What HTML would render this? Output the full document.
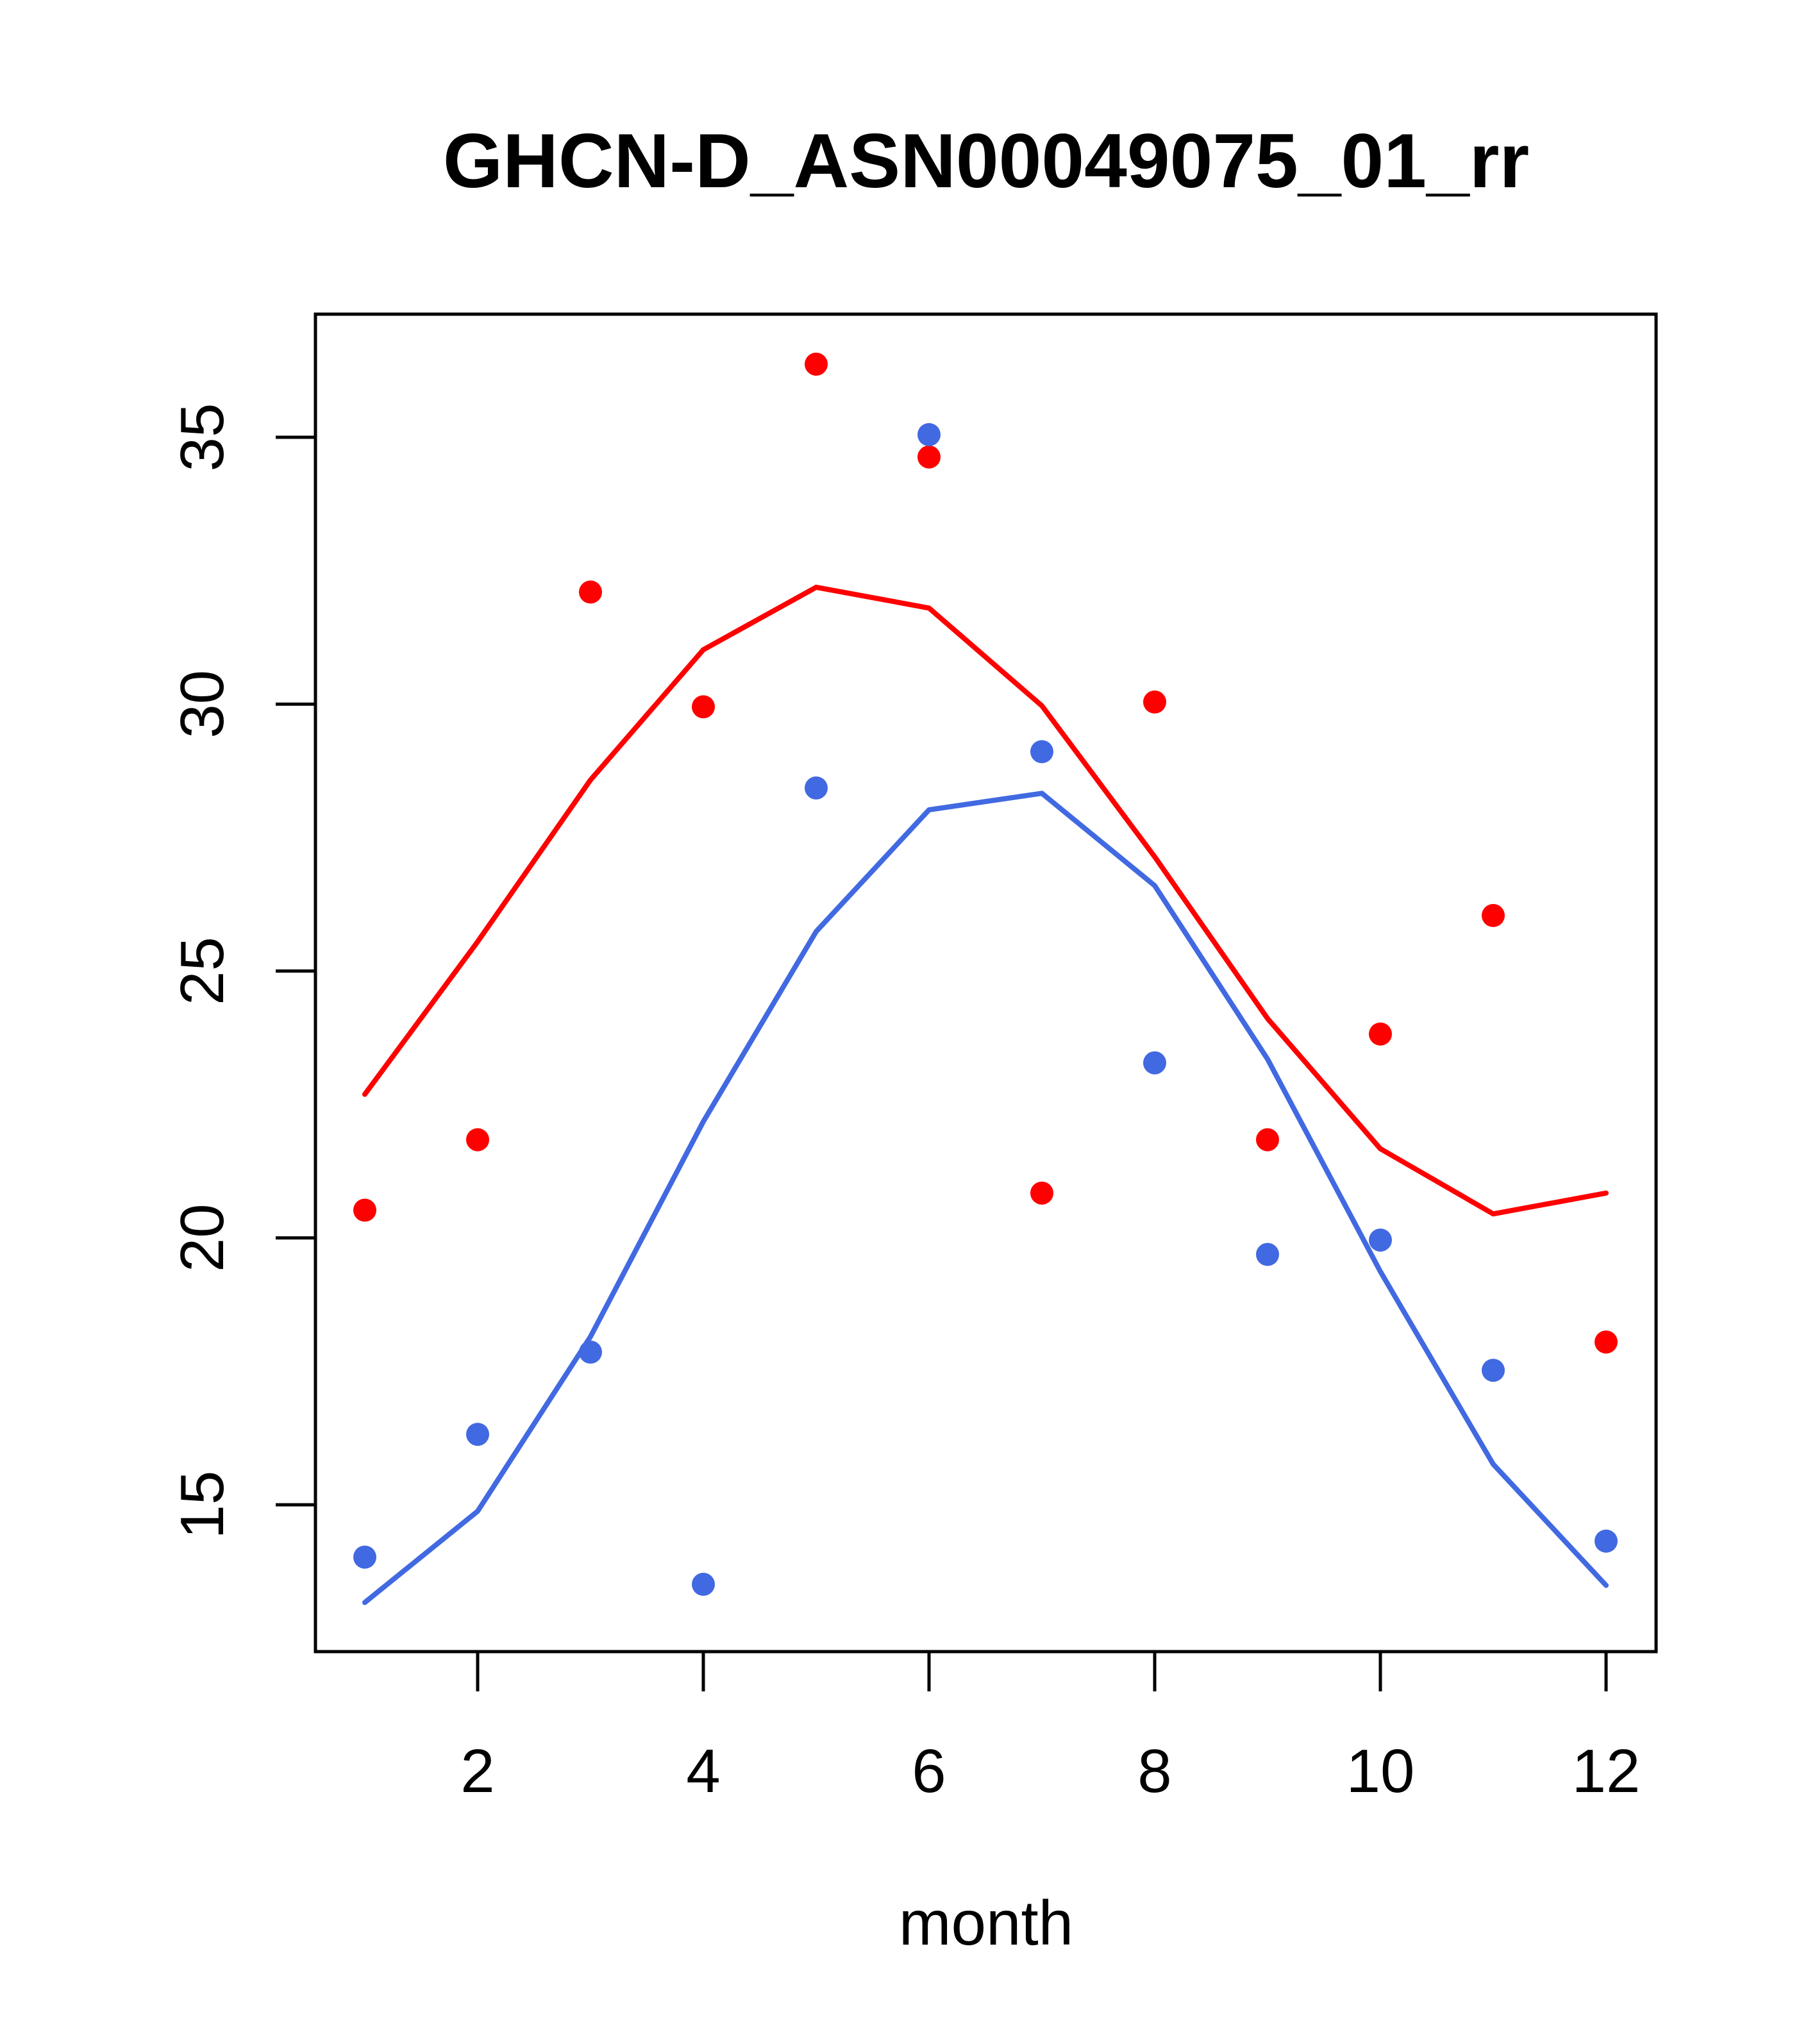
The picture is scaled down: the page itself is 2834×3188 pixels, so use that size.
<!DOCTYPE html>
<html><head><meta charset="utf-8"><style>html,body{margin:0;padding:0;background:#fff}svg{display:block}text{font-family:"Liberation Sans",sans-serif}</style></head>
<body>
<svg id="chart" width="2834" height="3188" viewBox="0 0 2834 3188" xmlns="http://www.w3.org/2000/svg">
<rect width="2834" height="3188" fill="#fff"/>
<text x="1538" y="292" font-size="120" font-weight="bold" text-anchor="middle">GHCN-D_ASN00049075_01_rr</text>
<rect x="492" y="490" width="2091" height="2086" fill="none" stroke="#000" stroke-width="5"/>
<g id="xaxis"></g>
<g id="yaxis"></g>
<text x="1538" y="3033" font-size="98" text-anchor="middle">month</text>
<g id="series"></g>
</svg>
<script>
const months=[1,2,3,4,5,6,7,8,9,10,11,12];
const redPoints=[20.52,21.84,32.1,29.95,36.37,34.63,20.84,30.04,21.84,23.82,26.04,18.05];
const bluePoints=[14.02,16.32,17.86,13.51,28.43,35.05,29.11,23.28,19.69,19.96,17.52,14.32];
const redLine=[22.69,25.55,28.58,31.02,32.19,31.8,29.97,27.14,24.11,21.67,20.45,20.84];
const blueLine=[13.17,14.88,18.15,22.18,25.74,28.02,28.33,26.6,23.35,19.37,15.76,13.49];
const xTicks=[2,4,6,8,10,12];
const yTicks=[15,20,25,30,35];
const NS="http://www.w3.org/2000/svg";
function xs(m){return 745+(m-2)*176;}
function ys(v){return 2347-(v-15)*83.25;}
function mk(t,a,p){const e=document.createElementNS(NS,t);for(const k in a)e.setAttribute(k,a[k]);p.appendChild(e);return e;}
const xa=document.getElementById('xaxis'),ya=document.getElementById('yaxis'),sg=document.getElementById('series');
xTicks.forEach(t=>{
 const l=mk('line',{x1:xs(t),x2:xs(t),y1:2576,y2:2638,stroke:'#000','stroke-width':5},xa);
 
 
 const tx=mk('text',{x:xs(t),y:2795,'font-size':96,'text-anchor':'middle'},xa);
 tx.textContent=t;
 
 
});
yTicks.forEach(t=>{
 const l=mk('line',{x1:430,x2:492,y1:ys(t),y2:ys(t),stroke:'#000','stroke-width':5},ya);
 
 
 const tx=mk('text',{x:0,y:0,'font-size':96,'text-anchor':'middle',transform:`translate(348,${ys(t)}) rotate(-90)`},ya);
 tx.textContent=t;
 
 
});
function line(vals,col,name){
 const p=mk('polyline',{points:vals.map((v,i)=>xs(months[i])+','+ys(v)).join(' '),fill:'none',stroke:col,'stroke-width':8,'stroke-linejoin':'round','stroke-linecap':'round'},sg);
 
 
}
function pts(vals,col,name){
 vals.forEach((v,i)=>{
  const c=mk('circle',{cx:xs(months[i]),cy:ys(v),r:18,fill:col},sg);
  
  
 });
}
line(redLine,'#ff0000','red-smooth-line');
line(blueLine,'#4169e1','blue-smooth-line');
pts(redPoints,'#ff0000','red-point');
pts(bluePoints,'#4169e1','blue-point');
</script>
</body></html>
